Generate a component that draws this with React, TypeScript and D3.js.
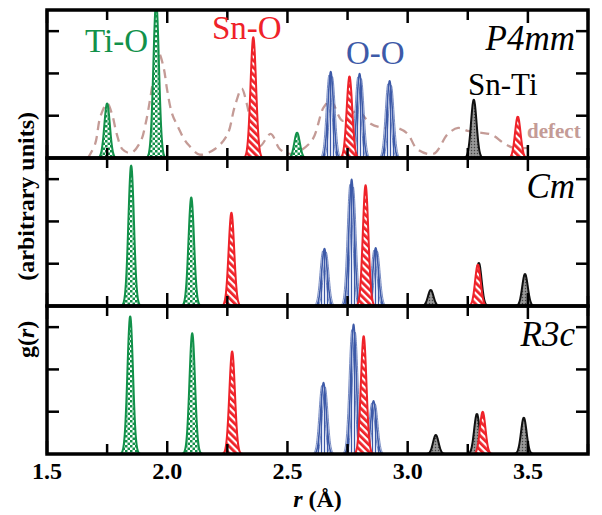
import React from "react";
import * as d3 from "d3";

const WIDTH = 602;
const HEIGHT = 515;
const MARGIN = { left: 47, right: 14, top: 10 };
const PANEL_H = 148;

// r axis
const R_DOMAIN: [number, number] = [1.5, 3.75];
const R_TICKS = [1.5, 1.75, 2.0, 2.25, 2.5, 2.75, 3.0, 3.25, 3.5, 3.75];
const R_LABELS = [1.5, 2.0, 2.5, 3.0, 3.5];
const G_DOMAIN: [number, number] = [0, 3.5];
const G_TICKS = [1, 2, 3];

const panelNames = ["P4mm", "Cm", "R3c"];

// peaks [r, height]
const tiO_P4mm = [[1.75, 1.29], [1.954, 3.7], [2.54, 0.6]];
const snO_P4mm = [[2.358, 2.86], [2.758, 1.93], [3.458, 0.98]];
const oo_P4mm = [[2.68, 2.05], [2.8, 2.0], [2.925, 1.83]];
const snTi_P4mm = [[3.275, 1.38]];

const tiO_Cm = [[1.85, 3.33], [2.1, 2.57]];
const snO_Cm = [[2.267, 2.21], [2.825, 2.86], [3.292, 0.98]];
const oo_Cm = [[2.654, 1.36], [2.767, 3.0], [2.867, 1.38]];
const snTi_Cm = [[3.096, 0.38], [3.296, 1.02], [3.488, 0.76]];

const tiO_R3c = [[1.846, 3.26], [2.104, 2.86]];
const snO_R3c = [[2.27, 2.43], [2.817, 2.79], [3.312, 1.0]];
const oo_R3c = [[2.65, 1.69], [2.775, 3.07], [2.858, 1.26]];
const snTi_R3c = [[3.117, 0.45], [3.288, 0.95], [3.483, 0.86]];

// dashed "defect" curve in the P4mm panel [r, g]
const defect = [
  [1.67, 0.0], [1.7, 0.33], [1.722, 0.98], [1.75, 1.29], [1.77, 1.05], [1.79, 0.57],
  [1.815, 0.2], [1.85, 0.12], [1.89, 0.4], [1.91, 0.81], [1.93, 1.43], [1.95, 2.14],
  [1.965, 2.48], [1.985, 2.14], [2.0, 1.6], [2.02, 1.05], [2.046, 0.72], [2.07, 0.45],
  [2.09, 0.3], [2.135, 0.08], [2.2, 0.22], [2.25, 0.55], [2.28, 1.2], [2.31, 1.64],
  [2.33, 1.3], [2.35, 0.8], [2.385, 0.28], [2.43, 0.57], [2.47, 0.2], [2.52, 0.1],
  [2.6, 0.4], [2.65, 1.19], [2.68, 1.36], [2.73, 0.88], [2.79, 1.12], [2.846, 0.81],
  [2.9, 0.71], [2.958, 0.71], [3.0, 0.57], [3.04, 0.21], [3.108, 0.1], [3.167, 0.57],
  [3.21, 0.71], [3.25, 0.64], [3.3, 0.6], [3.35, 0.55], [3.4, 0.35], [3.44, 0.24],
  [3.5, 0.24],
];

const SIGMA = 0.0115;

const COLORS = {
  tiO: "#12914a",
  snO: "#ef2229",
  oo: "#3d5aa8",
  snTi: "#111111",
  defect: "#c49b96",
};

const panels = [
  { name: panelNames[0], tiO: tiO_P4mm, snO: snO_P4mm, oo: oo_P4mm, snTi: snTi_P4mm, defect: true },
  { name: panelNames[1], tiO: tiO_Cm, snO: snO_Cm, oo: oo_Cm, snTi: snTi_Cm, defect: false },
  { name: panelNames[2], tiO: tiO_R3c, snO: snO_R3c, oo: oo_R3c, snTi: snTi_R3c, defect: false },
];

const FONT = "Liberation Serif, Times New Roman, serif";

function gaussPoints(c: number, h: number, s: number) {
  return d3.range(-4, 4.001, 0.1).map((k) => [c + k * s, h * Math.exp(-0.5 * k * k)]);
}

function Panel({ p, i, xScale }: { p: any; i: number; xScale: d3.ScaleLinear<number, number> }) {
  const top = MARGIN.top + i * PANEL_H;
  const bottom = top + PANEL_H;
  const yScale = d3.scaleLinear().domain(G_DOMAIN).range([bottom, top]);
  const area = d3
    .area<number[]>()
    .x((d) => xScale(d[0]))
    .y0(bottom)
    .y1((d) => yScale(d[1]))
    .curve(d3.curveBasis);
  const line = d3
    .line<number[]>()
    .x((d) => xScale(d[0]))
    .y((d) => yScale(d[1]))
    .curve(d3.curveBasis);
  const defLine = d3
    .line<number[]>()
    .x((d) => xScale(d[0]))
    .y((d) => yScale(d[1]))
    .curve(d3.curveCatmullRom.alpha(0.5));
  const clipId = `clip${i}`;
  const x0 = xScale(R_DOMAIN[0]);
  const x1 = xScale(R_DOMAIN[1]);

  const peak = (pk: number[], fill: string, stroke: string, key: string, sw = 2) => {
    const pts = gaussPoints(pk[0], pk[1], SIGMA);
    return (
      <g key={key}>
        <path d={area(pts) || ""} fill={fill} />
        <path d={line(pts) || ""} fill="none" stroke={stroke} strokeWidth={sw} />
      </g>
    );
  };

  return (
    <g>
      <clipPath id={clipId}>
        <rect x={x0} y={top} width={x1 - x0} height={PANEL_H} />
      </clipPath>
      <g clipPath={`url(#${clipId})`}>
        {p.defect && (
          <path
            d={defLine(defect) || ""}
            fill="none"
            stroke={COLORS.defect}
            strokeWidth={2.3}
            strokeDasharray="9,6"
          />
        )}
        {p.tiO.map((pk: number[], j: number) => peak(pk, "url(#checker)", COLORS.tiO, `t${j}`))}
        {p.oo.map((pk: number[], j: number) => (
          <g key={`o${j}`}>
            {peak(pk, "url(#vlines)", COLORS.oo, `om${j}`, 1.6)}
            <path
              d={line(gaussPoints(pk[0] - 0.007, pk[1] * 0.96, SIGMA)) || ""}
              fill="none"
              stroke={COLORS.oo}
              strokeWidth={1}
              opacity={0.7}
            />
            <path
              d={line(gaussPoints(pk[0] + 0.007, pk[1] * 0.94, SIGMA)) || ""}
              fill="none"
              stroke={COLORS.oo}
              strokeWidth={1}
              opacity={0.7}
            />
          </g>
        ))}
        {p.snTi.map((pk: number[], j: number) => peak(pk, "url(#cross)", COLORS.snTi, `b${j}`))}
        {p.snO.map((pk: number[], j: number) => peak(pk, "url(#hatch)", COLORS.snO, `s${j}`))}
      </g>

      {/* ticks */}
      {R_TICKS.map((t) => {
        const len = R_LABELS.includes(t) ? 13 : 10;
        return (
          <g key={`rt${t}`} stroke="#000" strokeWidth={2.5}>
            <line x1={xScale(t)} x2={xScale(t)} y1={top} y2={top + len} />
            <line x1={xScale(t)} x2={xScale(t)} y1={bottom} y2={bottom - len} />
          </g>
        );
      })}
      {G_TICKS.map((t) => (
        <g key={`gt${t}`} stroke="#000" strokeWidth={2.5}>
          <line x1={x0} x2={x0 + 12} y1={yScale(t)} y2={yScale(t)} />
          <line x1={x1} x2={x1 - 12} y1={yScale(t)} y2={yScale(t)} />
        </g>
      ))}
      <rect x={x0} y={top} width={x1 - x0} height={PANEL_H} fill="none" stroke="#000" strokeWidth={3.5} />

      <text
        x={575}
        y={top + 40}
        textAnchor="end"
        style={{ fontFamily: FONT, fontStyle: "italic", fontSize: 35 }}
        fill="#000"
      >
        {p.name}
      </text>
    </g>
  );
}

export default function App() {
  const xScale = d3.scaleLinear().domain(R_DOMAIN).range([MARGIN.left, WIDTH - MARGIN.right]);
  const axisY = MARGIN.top + 3 * PANEL_H;

  return (
    <svg
      width={WIDTH}
      height={HEIGHT}
      style={{ position: "absolute", left: 0, top: 0, background: "#fff", fontFamily: FONT }}
    >
      <defs>
        <pattern id="checker" width={5} height={5} patternUnits="userSpaceOnUse">
          <rect width={5} height={5} fill="#fff" />
          <rect width={2.5} height={2.5} fill={COLORS.tiO} />
          <rect x={2.5} y={2.5} width={2.5} height={2.5} fill={COLORS.tiO} />
        </pattern>
        <pattern
          id="hatch"
          width={5}
          height={5}
          patternUnits="userSpaceOnUse"
          patternTransform="rotate(-45)"
        >
          <rect width={5} height={5} fill="#fff" />
          <rect width={2.8} height={5} fill={COLORS.snO} />
        </pattern>
        <pattern id="vlines" width={3} height={3} patternUnits="userSpaceOnUse">
          <rect width={3} height={3} fill="#e3e8f5" />
          <rect width={1} height={3} fill={COLORS.oo} />
        </pattern>
        <pattern id="cross" width={3} height={3} patternUnits="userSpaceOnUse">
          <rect width={3} height={3} fill="#8c8c8c" />
          <rect width={1} height={1} fill="#444" />
          <rect x={1.5} y={1.5} width={1} height={1} fill="#bbb" />
        </pattern>
      </defs>

      {panels.map((p, i) => (
        <Panel key={p.name} p={p} i={i} xScale={xScale} />
      ))}

      {/* annotations in the P4mm panel */}
      <g style={{ fontFamily: FONT, fontSize: 33 }}>
        <text x={85} y={52} fill={COLORS.tiO}>Ti-O</text>
        <text x={212} y={39} fill={COLORS.snO}>Sn-O</text>
        <text x={346} y={64} fill={COLORS.oo}>O-O</text>
        <text x={468} y={95} fill="#000" style={{ fontSize: 31 }}>Sn-Ti</text>
        <text x={527} y={138} fill={COLORS.defect} style={{ fontSize: 21, fontWeight: "bold" }}>
          defect
        </text>
      </g>

      {/* r axis labels */}
      <g style={{ fontFamily: FONT, fontSize: 24, fontWeight: "bold" }} textAnchor="middle">
        {R_LABELS.map((t) => (
          <text key={t} x={xScale(t)} y={axisY + 25}>
            {d3.format(".1f")(t)}
          </text>
        ))}
        <text x={(xScale(R_DOMAIN[0]) + xScale(R_DOMAIN[1])) / 2} y={axisY + 53}>
          <tspan style={{ fontStyle: "italic" }}>r</tspan> (Å)
        </text>
      </g>

      <text
        transform="translate(34,235) rotate(-90)"
        style={{ fontFamily: FONT, fontSize: 24, fontWeight: "bold" }}
        textAnchor="middle"
      >
        g(<tspan style={{ fontStyle: "italic" }}>r</tspan>)<tspan dx={40}>(arbitrary units)</tspan>
      </text>
    </svg>
  );
}
